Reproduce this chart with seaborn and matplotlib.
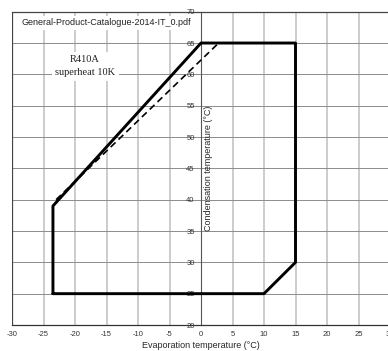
import matplotlib
matplotlib.use("Agg")
import matplotlib.pyplot as plt
import seaborn as sns
import pandas as pd

# Data
envelope_evap = [-23.5, 10, 15, 15, 0, -23.5, -23.5]
envelope_cond = [25, 25, 30, 65, 65, 39, 25]
dashed_evap = [-23.0, 2.8]
dashed_cond = [40.0, 65.0]
x_ticks = list(range(-30, 35, 5))
y_ticks = list(range(20, 75, 5))

sns.set_style("white")
plt.rcParams['font.family'] = ['Liberation Sans', 'DejaVu Sans']

fig = plt.figure(figsize=(3.88, 3.51), dpi=100)
ax = fig.add_axes([12/388, 26/351, 378/388, 313.3/351])
ax.set_xlim(-30, 30)
ax.set_ylim(20, 70)

# grid
for xv in x_ticks:
    if xv not in (-30, 0):
        ax.axvline(xv, color='#c8c8c8', lw=1.3, zorder=0)
for yv in y_ticks:
    if yv != 20:
        ax.axhline(yv, color='#8c8c8c', lw=0.7, zorder=0)

ax.axvline(-30, color='#444444', lw=0.9, zorder=1)

env = pd.DataFrame({"evap": envelope_evap, "cond": envelope_cond})
sns.lineplot(data=env, x="evap", y="cond", sort=False, estimator=None,
             color='black', lw=2.1, ax=ax, zorder=5)
dsh = pd.DataFrame({"evap": dashed_evap, "cond": dashed_cond})
sns.lineplot(data=dsh, x="evap", y="cond", sort=False, estimator=None,
             color='black', lw=1.2, ax=ax, zorder=4, linestyle=(0, (4, 2.5)))

ax.spines['left'].set_position(('data', 0))
ax.spines['left'].set_color('#555555')
ax.spines['left'].set_linewidth(0.8)
ax.spines['right'].set_visible(False)
ax.spines['top'].set_color('#444444')
ax.spines['top'].set_linewidth(0.9)
ax.spines['bottom'].set_color('#333333')
ax.spines['bottom'].set_linewidth(0.9)

ax.set_xticks(x_ticks)
ax.set_yticks(y_ticks)
ax.set_xticklabels([str(v) for v in x_ticks])
ax.set_yticklabels([str(v) for v in y_ticks])
ax.tick_params(axis='both', labelsize=5.5, colors='#333333', length=3, width=0.6, pad=1.5)

ax.set_xlabel("Evaporation temperature (°C)", fontsize=6.5, labelpad=2)
ax.set_ylabel("Condensation temperature (°C)", fontsize=6.5)
ax.yaxis.set_label_coords((213-12)/378, 0.5)

ax.text(-28.5, 68.2, "General-Product-Catalogue-2014-IT_0.pdf", fontsize=6.5,
        ha='left', va='center', color='#222222', zorder=6,
        bbox=dict(facecolor='white', edgecolor='none', pad=1.5))
ax.text(-18.4, 61.3, "R410A\nsuperheat 10K", fontsize=7.5, ha='center', va='center',
        family=['Liberation Serif', 'DejaVu Serif'], color='#222222', zorder=6,
        linespacing=1.55,
        bbox=dict(facecolor='white', edgecolor='none', pad=2.5))

fig.savefig("out.png", dpi=100)
